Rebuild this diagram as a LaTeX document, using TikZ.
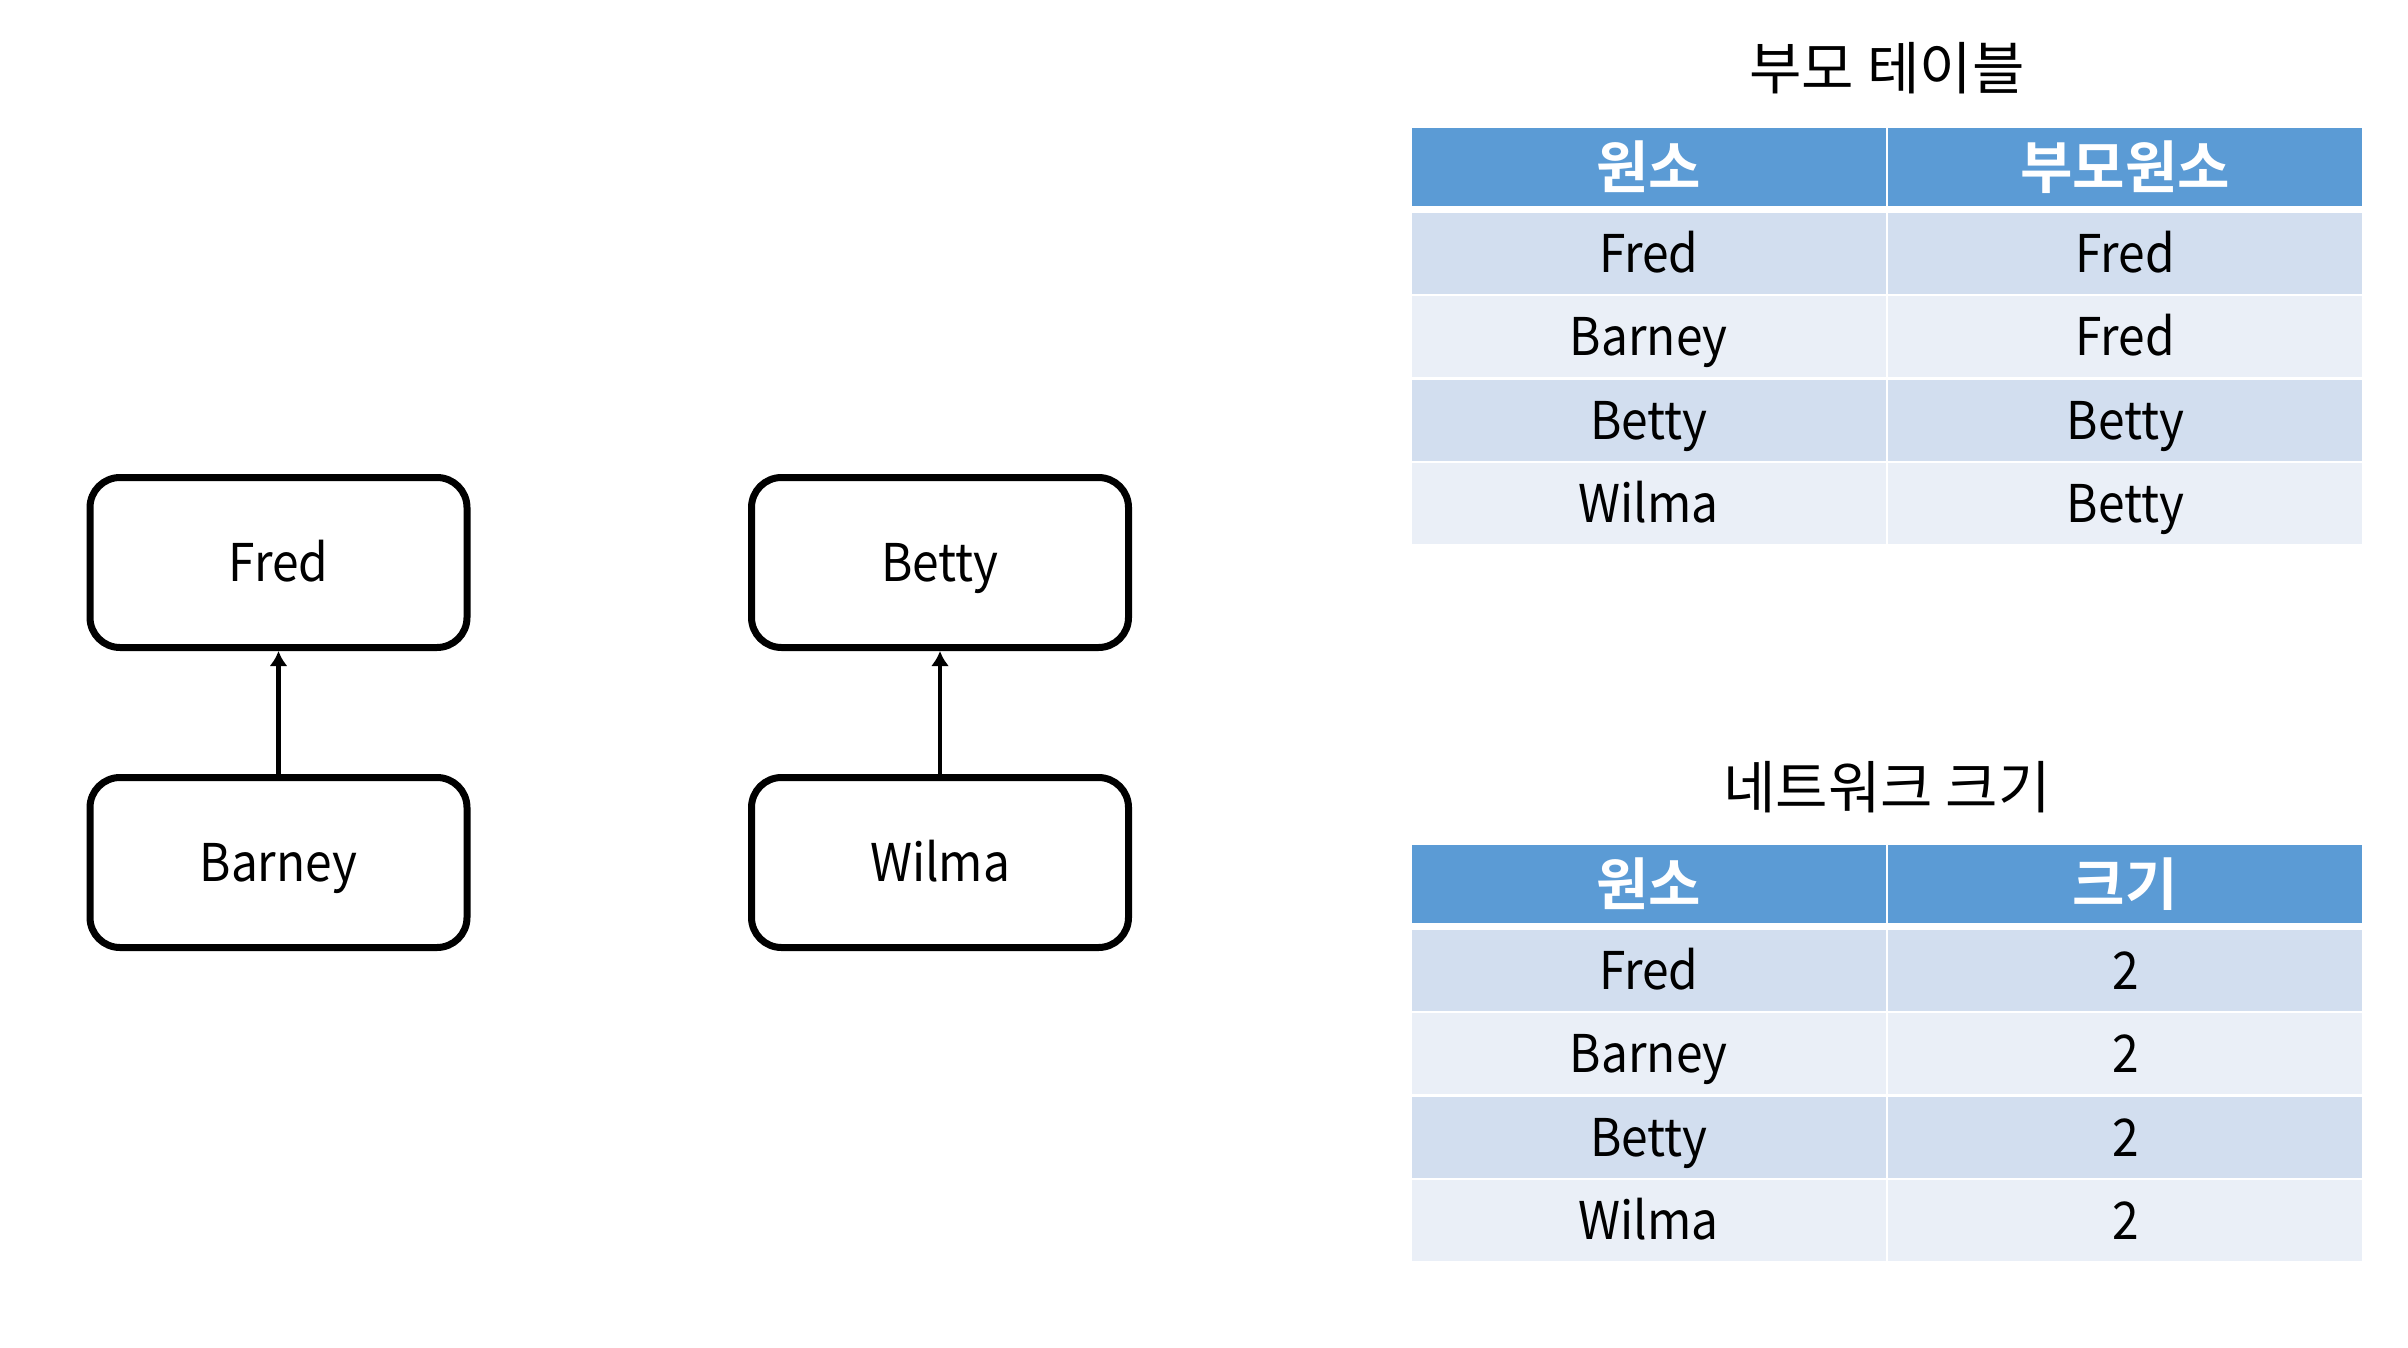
\documentclass[tikz,border=0pt]{standalone}
\usepackage{fontspec}
\setmainfont{Noto Sans CJK KR}[BoldFont={Noto Sans CJK KR Bold}]
\newfontfamily\latfont{Noto Sans CJK KR}[FakeStretch=0.92]
\usetikzlibrary{arrows.meta}
\definecolor{hdr}{HTML}{5B9BD5}
\definecolor{bandA}{HTML}{D2DEEF}
\definecolor{bandB}{HTML}{EAEFF7}
\begin{document}
\begin{tikzpicture}[x=0.5pt,y=-0.5pt,
  every node/.style={inner sep=0pt},
  lat/.style={font=\latfont\fontsize{26pt}{30pt}\selectfont, text height=19pt, text depth=0pt},
  kor/.style={font=\fontsize{28.5pt}{32pt}\selectfont},
  treebox/.style={lat, draw, line width=3.5pt, rounded corners=15pt, minimum width=188.5pt, minimum height=85pt},
  hcell/.style={fill=hdr, text=white, font=\fontsize{28.5pt}{32pt}\selectfont\bfseries, minimum width=237pt, minimum height=39pt},
  rowA/.style={lat, fill=bandA, minimum width=237pt, minimum height=40.5pt},
  rowB/.style={lat, fill=bandB, minimum width=237pt, minimum height=40.5pt},
  link/.style={-{Latex[length=7.5pt,width=9pt]}, line width=2.25pt}
]
\useasboundingbox (0,0) rectangle (2408,1348);
% tree
\node[treebox] (fred) at (278.5,562.5) {Fred};
\node[treebox] (barney) at (278.5,862.5) {Barney};
\node[treebox] (betty) at (940,562.5) {Betty};
\node[treebox] (wilma) at (940,862.5) {Wilma};
\draw[link] (barney) -- (fred);
\draw[link] (wilma) -- (betty);
% table 1
\node[kor] (t1) at (1887,68.5) {부모 테이블};
\node[hcell] (h11) at (1648.8,167) {원소};
\node[hcell] (h12) at (2125.3,167) {부모원소};
\node[rowA] (a11) at (1648.8,253.7) {Fred};
\node[rowA] (a12) at (2125.3,253.7) {Fred};
\node[rowB] (a21) at (1648.8,336.2) {Barney};
\node[rowB] (a22) at (2125.3,336.2) {Fred};
\node[rowA] (a31) at (1648.8,420) {Betty};
\node[rowA] (a32) at (2125.3,420) {Betty};
\node[rowB] (a41) at (1648.8,503.5) {Wilma};
\node[rowB] (a42) at (2125.3,503.5) {Betty};
% table 2
\node[kor] (t2) at (1887,787) {네트워크 크기};
\node[hcell] (h21) at (1648.8,884) {원소};
\node[hcell] (h22) at (2125.3,884) {크기};
\node[rowA] (b11) at (1648.8,970.7) {Fred};
\node[rowA] (b12) at (2125.3,970.7) {2};
\node[rowB] (b21) at (1648.8,1053.2) {Barney};
\node[rowB] (b22) at (2125.3,1053.2) {2};
\node[rowA] (b31) at (1648.8,1137) {Betty};
\node[rowA] (b32) at (2125.3,1137) {2};
\node[rowB] (b41) at (1648.8,1220.5) {Wilma};
\node[rowB] (b42) at (2125.3,1220.5) {2};
\end{tikzpicture}
\end{document}
